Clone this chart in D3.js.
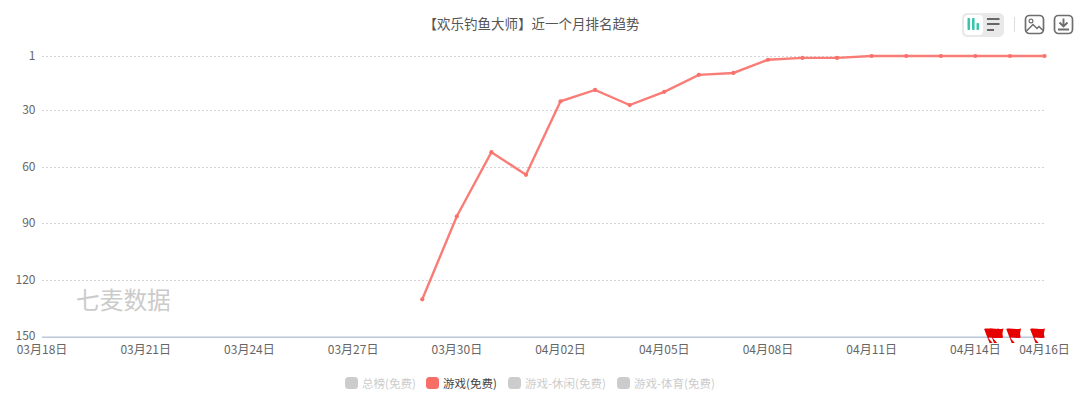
<!DOCTYPE html>
<html><head><meta charset="utf-8">
<script src="https://cdn.jsdelivr.net/npm/d3@7/dist/d3.min.js"></script>
<style>html,body{margin:0;padding:0;background:#fff}svg{display:block}text{font-family:"Noto Sans CJK SC","Noto Sans",sans-serif}</style>
</head><body><svg id="c" width="1080" height="407"></svg>
<script>
const titleText="【欢乐钓鱼大师】近一个月排名趋势";
const watermark="七麦数据";
const dates=["03月18日","03月19日","03月20日","03月21日","03月22日","03月23日","03月24日","03月25日","03月26日","03月27日","03月28日","03月29日","03月30日","03月31日","04月01日","04月02日","04月03日","04月04日","04月05日","04月06日","04月07日","04月08日","04月09日","04月10日","04月11日","04月12日","04月13日","04月14日","04月15日","04月16日"];
const ranks=[null,null,null,null,null,null,null,null,null,null,null,130,86,52,64,25,19,27,20,11,10,3,2,2,1,1,1,1,1,1];
const yTicks=[1,30,60,90,120,150];
const xTickLabels=["03月18日","03月21日","03月24日","03月27日","03月30日","04月02日","04月05日","04月08日","04月11日","04月14日","04月16日"];
const flagDays=[27.45,27.58,28.09,28.78];
const legendNames=["总榜(免费)","游戏(免费)","游戏-休闲(免费)","游戏-体育(免费)"];
const legendActive=[false,true,false,false];
const legendX=[345,426,508,617];

const svg=d3.select("#c");
const x=d3.scalePoint().domain(dates).range([42,1044.5]);
const y=d3.scaleLinear().domain([1,150]).range([56,337]);
const xDay=d3.scaleLinear().domain([0,dates.length-1]).range([42,1044.5]);

svg.append("text").attr("x",531.5).attr("y",29).attr("text-anchor","middle").attr("font-size",13.5).attr("fill","#555").text(titleText);

svg.append("g").selectAll("line").data(yTicks.slice(0,-1)).join("line")
 .attr("x1",42).attr("x2",1045).attr("y1",d=>Math.floor(y(d))+.5).attr("y2",d=>Math.floor(y(d))+.5)
 .attr("stroke","#d4d4d4").attr("stroke-dasharray","2,2");
svg.append("line").attr("x1",42).attr("x2",1045).attr("y1",y(150)+.25).attr("y2",y(150)+.25).attr("stroke","#bcc6d8").attr("stroke-width",1.5);

svg.append("g").selectAll("text").data(yTicks).join("text")
 .attr("x",35.5).attr("y",d=>y(d)+(d===150?2.5:3.5)).attr("text-anchor","end").attr("font-size",12).attr("fill","#666").text(d=>d);
svg.append("g").selectAll("text").data(xTickLabels).join("text")
 .attr("x",d=>x(d)).attr("y",354).attr("text-anchor","middle").attr("font-size",12).attr("fill","#666").text(d=>d);

svg.append("text").attr("x",76).attr("y",309).attr("font-size",23.7).attr("fill","#cbcbcb").text(watermark);

const pts=dates.map((d,i)=>({d,r:ranks[i]})).filter(p=>p.r!=null);
svg.append("path").attr("d",d3.line().x(p=>x(p.d)).y(p=>y(p.r))(pts)).attr("fill","none").attr("stroke","#f97d76").attr("stroke-width",2.4);
svg.append("g").selectAll("circle").data(pts).join("circle").attr("cx",p=>x(p.d)).attr("cy",p=>y(p.r)).attr("r",2.1).attr("fill","#f8716a");

svg.append("g").selectAll("path").data(flagDays).join("path")
 .attr("transform",d=>`translate(${xDay(d)},343)`)
 .attr("d","M-1.4 0 L-6.8 -14 C-3 -15.5 2 -13 8 -14.5 L7 -9.5 L7.6 -5.5 C3 -4 0 -6.5 -2.6 -5 L1.8 0 Z")
 .attr("fill","#e60000");

const lg=svg.append("g").selectAll("g").data(legendNames).join("g").attr("transform",(d,i)=>`translate(${legendX[i]},377)`);
lg.append("rect").attr("width",13).attr("height",12).attr("rx",3.5).attr("fill",(d,i)=>legendActive[i]?"#f86d66":"#ccc");
lg.append("text").attr("x",17).attr("y",10.5).attr("font-size",11.5).attr("fill",(d,i)=>legendActive[i]?"#444":"#ccc").text(d=>d);

const tb=svg.append("g");
tb.append("rect").attr("x",962).attr("y",13).attr("width",42).attr("height",24).attr("rx",5).attr("fill","#e9e9e9");
tb.append("rect").attr("x",964).attr("y",15).attr("width",19).attr("height",20).attr("rx",4).attr("fill","#fff");
[[967.5,18,12],[972,18,12],[976.5,23,7]].forEach(b=>tb.append("rect").attr("x",b[0]).attr("y",b[1]).attr("width",2.6).attr("height",b[2]).attr("rx",.8).attr("fill","#3cc3ae"));
[[987,18,12.5],[987,23,12.5],[987,29,7]].forEach(b=>tb.append("rect").attr("x",b[0]).attr("y",b[1]).attr("width",b[2]).attr("height",2).attr("fill","#666"));
tb.append("line").attr("x1",1014.5).attr("x2",1014.5).attr("y1",17).attr("y2",32).attr("stroke","#ddd");
tb.append("rect").attr("x",1025.5).attr("y",15.5).attr("width",18).attr("height",18).attr("rx",4).attr("fill","none").attr("stroke","#6e6e6e").attr("stroke-width",1.7);
tb.append("circle").attr("cx",1031).attr("cy",21).attr("r",1.9).attr("fill","none").attr("stroke","#6e6e6e").attr("stroke-width",1.2);
tb.append("path").attr("d","M1026 31.5 L1033 24.5 L1037 28.5 L1039 26.5 L1043 30.5").attr("fill","none").attr("stroke","#6e6e6e").attr("stroke-width",1.5);
tb.append("rect").attr("x",1054.5).attr("y",15.5).attr("width",18).attr("height",18).attr("rx",4).attr("fill","none").attr("stroke","#6e6e6e").attr("stroke-width",1.7);
tb.append("path").attr("d","M1063.5 18.5 V26 M1059.5 22.5 L1063.5 26.5 L1067.5 22.5 M1058 29.5 H1069").attr("fill","none").attr("stroke","#6e6e6e").attr("stroke-width",1.9);
</script></body></html>
